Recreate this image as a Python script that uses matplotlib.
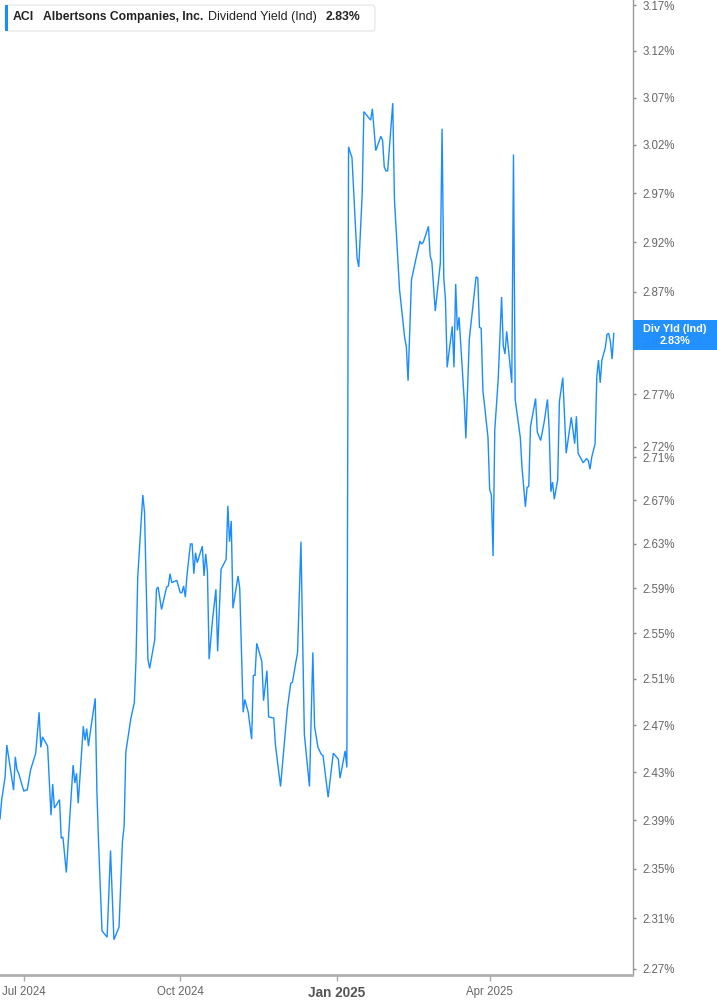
import matplotlib
matplotlib.use("Agg")
import matplotlib.pyplot as plt
from matplotlib.patches import FancyBboxPatch, Rectangle
import pandas as pd

plt.rcParams['font.family'] = ['Liberation Sans', 'DejaVu Sans']

# Data: days since 2024-06-17 and the dividend yield (%)
start = pd.Timestamp("2024-06-17")
day_offsets = [
    0, 1, 3, 4, 8, 9, 10, 11, 14, 15, 16, 18, 21, 23, 24, 25, 28, 30, 31, 32,
    35, 36, 37, 39, 43, 44, 45, 46, 49, 50, 51, 52, 53, 56, 57, 58, 60, 63, 65, 67,
    70, 72, 73, 74, 77, 79, 80, 81, 84, 85, 87, 88, 91, 92, 93, 95, 98, 99, 100, 101,
    104, 106, 107, 108, 109, 110, 112, 113, 114, 115, 116, 119, 120, 121, 122, 123, 125, 127, 128, 130,
    133, 134, 135, 136, 137, 140, 141, 143, 144, 146, 148, 149, 150, 151, 154, 155, 157, 158, 161, 162,
    165, 169, 171, 172, 175, 177, 179, 182, 184, 185, 187, 189, 190, 193, 196, 199, 200, 203, 204, 205,
    206, 207, 210, 211, 213, 214, 218, 219, 221, 224, 225, 226, 227, 228, 231, 232, 235, 238, 239, 240,
    242, 243, 245, 247, 248, 249, 252, 253, 254, 256, 259, 260, 261, 262, 263, 266, 267, 268, 269, 270,
    273, 274, 276, 280, 281, 282, 283, 284, 287, 288, 289, 290, 291, 293, 295, 296, 297, 298, 301, 302,
    303, 306, 307, 309, 310, 311, 312, 315, 316, 318, 320, 322, 323, 324, 325, 326, 328, 329, 331, 333,
    336, 338, 339, 340, 341, 343, 345, 346, 347, 348, 350, 351, 352, 353, 354, 356, 357, 358, 359, 360,
    361,
]
div_yield = [
    2.391, 2.407, 2.426, 2.453, 2.415, 2.443, 2.432, 2.429, 2.414, 2.415, 2.415, 2.432, 2.446, 2.481, 2.451, 2.460, 2.452, 2.394, 2.420, 2.400,
    2.407, 2.375, 2.376, 2.347, 2.436, 2.421, 2.429, 2.404, 2.469, 2.457, 2.467, 2.452, 2.463, 2.493, 2.413, 2.370, 2.300, 2.295, 2.365, 2.293,
    2.303, 2.372, 2.385, 2.447, 2.476, 2.489, 2.527, 2.600, 2.675, 2.659, 2.527, 2.519, 2.544, 2.589, 2.591, 2.571, 2.591, 2.592, 2.603, 2.595,
    2.597, 2.586, 2.586, 2.592, 2.582, 2.602, 2.630, 2.630, 2.603, 2.622, 2.613, 2.628, 2.601, 2.621, 2.605, 2.527, 2.562, 2.589, 2.534, 2.607,
    2.616, 2.665, 2.632, 2.651, 2.572, 2.601, 2.590, 2.481, 2.492, 2.481, 2.458, 2.513, 2.513, 2.541, 2.525, 2.491, 2.517, 2.477, 2.476, 2.453,
    2.418, 2.484, 2.506, 2.507, 2.533, 2.632, 2.462, 2.418, 2.533, 2.469, 2.451, 2.445, 2.444, 2.409, 2.446, 2.441, 2.425, 2.448, 2.434, 3.018,
    3.012, 3.007, 2.904, 2.895, 2.968, 3.055, 3.046, 3.058, 3.014, 3.029, 3.025, 2.997, 2.993, 2.993, 3.064, 2.963, 2.872, 2.825, 2.816, 2.783,
    2.882, 2.890, 2.906, 2.921, 2.918, 2.920, 2.936, 2.906, 2.900, 2.851, 2.899, 3.037, 2.884, 2.862, 2.796, 2.836, 2.796, 2.878, 2.832, 2.845,
    2.765, 2.728, 2.823, 2.885, 2.884, 2.835, 2.834, 2.774, 2.729, 2.680, 2.675, 2.619, 2.736, 2.784, 2.865, 2.817, 2.809, 2.831, 2.781, 3.010,
    2.765, 2.729, 2.701, 2.664, 2.682, 2.683, 2.739, 2.766, 2.734, 2.726, 2.743, 2.765, 2.736, 2.678, 2.687, 2.671, 2.689, 2.763, 2.786, 2.714,
    2.748, 2.723, 2.749, 2.714, 2.711, 2.705, 2.709, 2.707, 2.699, 2.710, 2.723, 2.787, 2.803, 2.781, 2.803, 2.815, 2.828, 2.829, 2.821, 2.804,
    2.829,
]

ytick_vals = [3.17, 3.12, 3.07, 3.02, 2.97, 2.92, 2.87, 2.82, 2.77, 2.72, 2.71,
              2.67, 2.63, 2.59, 2.55, 2.51, 2.47, 2.43, 2.39, 2.35, 2.31, 2.27]
xtick_dates = ["2024-07-01", "2024-10-01", "2025-01-01", "2025-04-01"]
xtick_labels = ["Jul 2024", "Oct 2024", "Jan 2025", "Apr 2025"]

ticker = "ACI"
company = "Albertsons Companies, Inc."
metric = "Dividend Yield (Ind)"
last_value = "2.83%"

LINE_BLUE = "#1a8cff"
W, H = 717, 1005


def fx(px):
    return px / W


def fy(py):
    return 1 - py / H


dates = start + pd.to_timedelta(day_offsets, unit="D")

fig = plt.figure(figsize=(W / 100, H / 100), dpi=100)
ax = fig.add_axes([0, fy(975), fx(632.5), 975 / H])

ax.plot(dates, div_yield, color=LINE_BLUE, lw=1.0, solid_joinstyle="miter")

ax.set_yscale("log")
ax.set_ylim(2.2651, 3.1755)
ax.set_xlim(start, start + pd.Timedelta(days=372))

ax.yaxis.tick_right()
ax.set_yticks(ytick_vals)
ax.set_yticklabels([f"{v:.2f}%" for v in ytick_vals])
ax.minorticks_off()
ax.tick_params(axis="y", direction="out", length=2.5, width=1, color="#888888",
               labelsize=8.3, labelcolor="#666666", pad=5)

ax.set_xticks(pd.to_datetime(xtick_dates))
ax.set_xticklabels(xtick_labels)
ax.tick_params(axis="x", direction="out", length=4, width=1, color="#aaaaaa",
               labelsize=8.3, labelcolor="#666666", pad=4)
jan = ax.get_xticklabels()[2]
jan.set_fontweight("bold")
jan.set_fontsize(9.8)
jan.set_color("#555555")

for side in ["left", "top"]:
    ax.spines[side].set_visible(False)
ax.spines["right"].set_color("#999999")
ax.spines["right"].set_linewidth(1)
ax.spines["bottom"].set_color("#b0b0b0")
ax.spines["bottom"].set_linewidth(2)

# Header legend box
hdr = FancyBboxPatch((fx(5), fy(31)), fx(370), 26 / H, transform=fig.transFigure,
                     boxstyle="round,pad=0,rounding_size=0.004",
                     facecolor="white", edgecolor="#e4e4e4", lw=0.8)
fig.patches.append(hdr)
fig.patches.append(Rectangle((fx(5), fy(31)), fx(3), 26 / H, transform=fig.transFigure,
                             facecolor=LINE_BLUE, edgecolor="none"))
hy = fy(17)
fig.text(fx(13), hy, ticker, fontsize=8.8, fontweight="bold", color="#222222", va="center")
fig.text(fx(43), hy, company, fontsize=8.7, fontweight="bold", color="#222222", va="center")
fig.text(fx(208), hy, metric, fontsize=9.0, color="#222222", va="center")
fig.text(fx(326), hy, last_value, fontsize=8.8, fontweight="bold", color="#222222", va="center")

# Last value badge on the right axis (slightly see-through, as in the original)
fig.patches.append(Rectangle((fx(633), fy(350)), fx(84), 30 / H, transform=fig.transFigure,
                             facecolor=LINE_BLUE, edgecolor="none", alpha=0.96, zorder=5))
fig.text(fx(675), fy(329), "Div Yld (Ind)", fontsize=7.8, fontweight="bold",
         color="white", ha="center", va="center", zorder=6)
fig.text(fx(675), fy(341), last_value, fontsize=7.8, fontweight="bold",
         color="white", ha="center", va="center", zorder=6)

fig.savefig("out.png", dpi=100)
